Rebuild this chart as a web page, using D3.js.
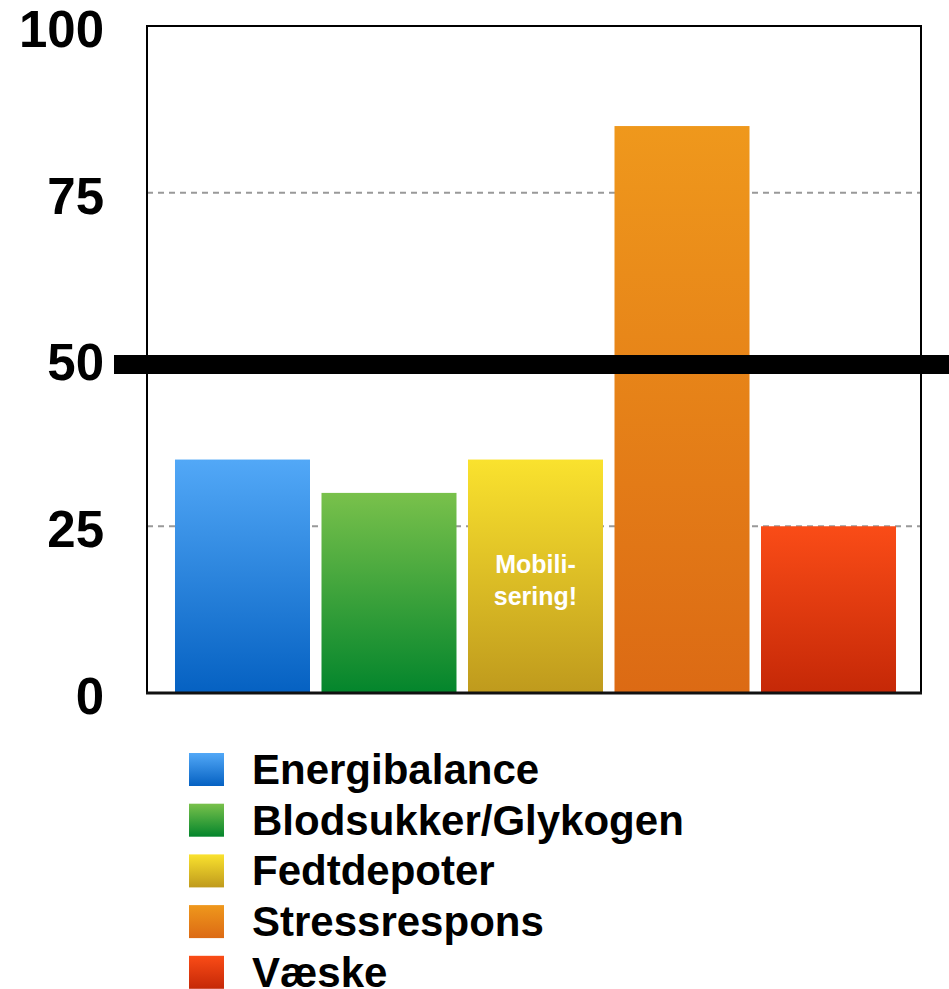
<!DOCTYPE html>
<html><head><meta charset="utf-8">
<script src="https://cdn.jsdelivr.net/npm/d3@7"></script>
<style>html,body{margin:0;padding:0;background:#fff;}svg{display:block;}</style>
</head><body>
<svg id="c" width="949" height="989"></svg>
<script>
const categories = ["Energibalance","Blodsukker/Glykogen","Fedtdepoter","Stressrespons","Væske"];
const values = [35, 30, 35, 85, 25];
const topColors = ["#52a8f7","#79c14b","#fae22e","#ef981c","#fa4c17"];
const bottomColors = ["#0561c2","#03852c","#bf9a1d","#dc6a14","#c52807"];
const yTicks = [0, 25, 50, 75, 100];
const gridValues = [25, 75];
const thresholdValue = 50;
const barNote = {category:"Fedtdepoter", lines:["Mobili-","sering!"], value:18};

const svg = d3.select("#c");
const L = 147, R = 921, T = 26, B = 693;
const x = d3.scaleBand().domain(categories).range([L + 3, R]).paddingInner(0.0785).paddingOuter(0.1706);
const y = d3.scaleLinear().domain([0, 100]).range([B, T]);

const defs = svg.append("defs");
categories.forEach((c, i) => {
  const g = defs.append("linearGradient").attr("id", "g" + i)
    .attr("x1", 0).attr("y1", 0).attr("x2", 0).attr("y2", 1);
  g.append("stop").attr("offset", "0%").attr("stop-color", topColors[i]);
  g.append("stop").attr("offset", "100%").attr("stop-color", bottomColors[i]);
});

// gridlines
svg.append("g").selectAll("line").data(gridValues).join("line")
  .attr("x1", L).attr("x2", R).attr("y1", d => y(d)).attr("y2", d => y(d))
  .attr("stroke", "#999").attr("stroke-width", 2).attr("stroke-dasharray", "6,5");

// bars
svg.append("g").selectAll("rect").data(categories).join("rect")
  .attr("x", d => x(d)).attr("width", x.bandwidth())
  .attr("y", (d, i) => y(values[i])).attr("height", (d, i) => y(0) - y(values[i]))
  .attr("fill", (d, i) => `url(#g${i})`);

// note inside bar
const cx = x(barNote.category) + x.bandwidth() / 2;
const nt = svg.append("text")
  .attr("x", cx).attr("y", y(barNote.value))
  .attr("text-anchor", "middle")
  .attr("fill", "#fff").attr("font-family", "Liberation Sans, Arial, sans-serif")
  .attr("font-weight", "bold").attr("font-size", 25);
barNote.lines.forEach((t, i) => nt.append("tspan").attr("x", cx)
  .attr("dy", i === 0 ? 0 : 32).text(t));

// frame
svg.append("rect").attr("x", L).attr("y", T).attr("width", R - L).attr("height", B - T)
  .attr("fill", "none").attr("stroke", "#000").attr("stroke-width", 2);
svg.append("line").attr("x1", L - 1).attr("x2", R + 1).attr("y1", B).attr("y2", B)
  .attr("stroke", "#111").attr("stroke-width", 3);

// y axis labels
const yAxis = d3.axisLeft(y).tickValues(yTicks).tickSize(0).tickPadding(0);
const ya = svg.append("g").attr("transform", `translate(104,0)`).call(yAxis);
ya.select(".domain").remove();
ya.selectAll("text").attr("font-family", "Liberation Sans, Arial, sans-serif")
  .attr("font-weight", "bold").attr("font-size", 51).attr("fill", "#000").attr("dy", "0.4em");

// threshold line
svg.append("rect").attr("x", 114).attr("width", 949 - 114)
  .attr("y", y(thresholdValue) - 4.5).attr("height", 19).attr("fill", "#000");

// legend
const lg = svg.append("g").selectAll("g").data(categories).join("g")
  .attr("transform", (d, i) => `translate(189,${753 + i * 50.7})`);
lg.append("rect").attr("width", 35).attr("height", 33).attr("fill", (d, i) => `url(#g${i})`);
lg.append("text").attr("x", 63).attr("y", 31).text(d => d)
  .attr("font-family", "Liberation Sans, Arial, sans-serif").attr("font-weight", "bold")
  .attr("font-size", 42).attr("fill", "#000");
</script>
</body></html>
